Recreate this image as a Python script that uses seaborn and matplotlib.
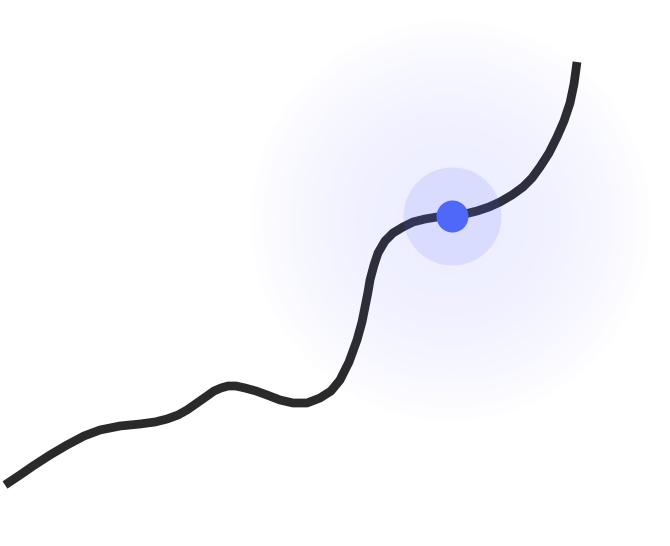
import numpy as np
import pandas as pd
import matplotlib
matplotlib.use("Agg")
import matplotlib.pyplot as plt
import seaborn as sns

# curve (pixel coords, y down)
curve_x = [5, 20, 33, 50, 67, 84, 100, 120, 140, 155, 167, 178, 187, 197, 207, 214, 221, 228, 236, 245, 256, 267, 280, 293, 307,
           320, 331, 340, 349, 357, 362, 365, 368, 370, 374, 378, 385, 393, 403, 413, 425, 437, 452,
           465, 477, 489, 500, 512, 523, 532, 540, 549, 557, 564, 570, 574, 577]
curve_y = [485, 475, 466, 455, 445, 436, 430, 426, 424, 422, 419, 415, 410, 403, 396, 391, 388, 386, 386, 388, 391, 395, 400, 403, 403,
           398, 391, 380, 362, 340, 322, 307, 292, 280, 265, 253, 241, 233, 227, 222, 219, 217, 216,
           214, 211, 207, 202, 195, 187, 178, 167, 153, 137, 121, 103, 84, 62]
point_x = [452]
point_y = [216]

W, H = 670, 546
fig = plt.figure(figsize=(W / 100, H / 100), dpi=100)
ax = fig.add_axes([0, 0, 1, 1])
sns.set_style("white")

df = pd.DataFrame({"x": curve_x, "y": curve_y})
sns.lineplot(data=df, x="x", y="y", sort=False, estimator=None, color="#2a2a2a",
             linewidth=6.3, ax=ax, zorder=2, solid_capstyle="butt", solid_joinstyle="round")

# soft lavender glow behind the point
gx, gy = np.meshgrid(np.arange(W), np.arange(H))
r = np.sqrt((gx - 450) ** 2 + (gy - 220) ** 2)
alpha = 0.11 * np.clip(1 - (r / 205) ** 2, 0, 1) ** 1.0
glow = np.zeros((H, W, 4))
glow[..., 0] = 0.35
glow[..., 1] = 0.38
glow[..., 2] = 1.0
glow[..., 3] = alpha
ax.imshow(glow, extent=(0, W, H, 0), zorder=3, interpolation="bilinear")

sns.scatterplot(x=point_x, y=point_y, s=(98 * 0.72) ** 2, color="#5468f8",
                alpha=0.13, linewidth=0, ax=ax, zorder=4)
sns.scatterplot(x=point_x, y=point_y, s=(32 * 0.72) ** 2, color="#4f68f8",
                linewidth=0, ax=ax, zorder=5)

ax.set_xlim(0, W)
ax.set_ylim(H, 0)
ax.set_aspect("auto")
ax.axis("off")
fig.savefig("out.png", dpi=100, facecolor="white")
